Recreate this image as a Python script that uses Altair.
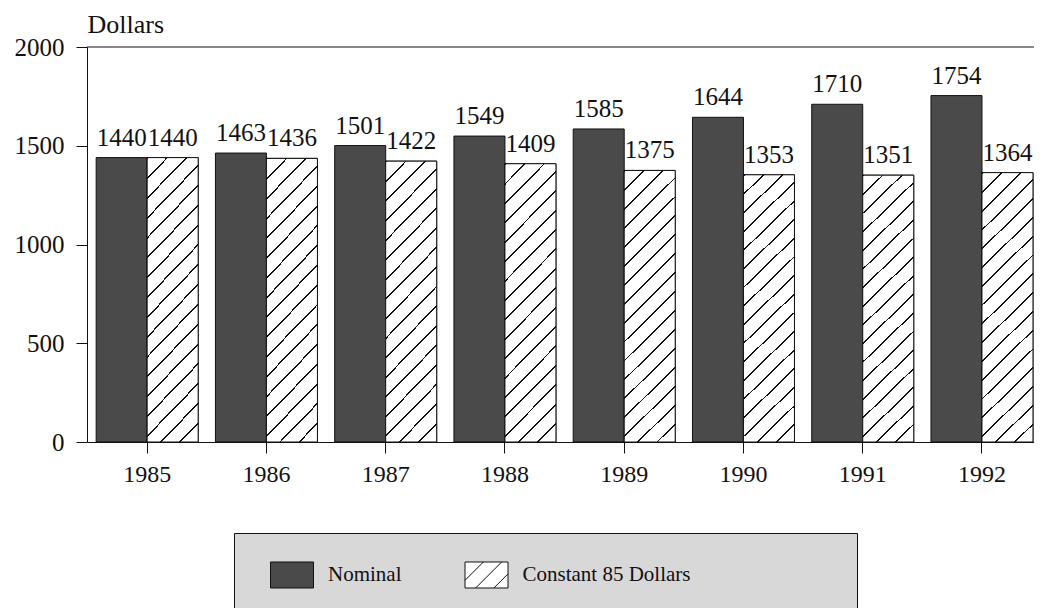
import altair as alt
import pandas as pd

# ---- data ----
years = ["1985", "1986", "1987", "1988", "1989", "1990", "1991", "1992"]
nominal = [1440, 1463, 1501, 1549, 1585, 1644, 1710, 1754]
constant85 = [1440, 1436, 1422, 1409, 1375, 1353, 1351, 1364]
series = ["Nominal", "Constant 85 Dollars"]
y_ticks = [0, 500, 1000, 1500, 2000]

rows = []
for i, yr in enumerate(years):
    rows.append({"year": yr, "series": series[0], "value": nominal[i]})
    rows.append({"year": yr, "series": series[1], "value": constant85[i]})
df = pd.DataFrame(rows)
top_df = pd.DataFrame({"value": [max(y_ticks)]})

# ---- styles ----
FONT = "Liberation Serif"
INK = "#111111"
DARK = "#4a4a4a"
STIPPLE = "#d8d8d8"


def hatch(n, w, h, lw=0.1):
    """Diagonal '/' hatch as a repeating linear gradient (bbox units)."""
    a = w / h
    L = (w + h) / (h * (1 + a * a))
    stops = []
    for k in range(n):
        s0 = k / n
        s1 = (k + lw) / n
        s2 = (k + 1) / n
        stops += [
            {"offset": round(s0, 5), "color": INK},
            {"offset": round(s1, 5), "color": INK},
            {"offset": round(s1, 5), "color": "white"},
            {"offset": round(s2, 5), "color": "white"},
        ]
    return {"gradient": "linear", "x1": 0, "y1": 0,
            "x2": round(a * L, 4), "y2": round(L, 4), "stops": stops}


RECT = "M-1,-0.605L1,-0.605L1,0.605L-1,0.605Z"
RECT_HATCH = (RECT + " M-1,0.25L-0.145,-0.605 M-0.505,0.605L0.705,-0.605"
              " M0.345,0.605L1,-0.05")

# trailing blank room inside the legend frame (the frame is wider than its entries)
GAP = "\u00a0" * 28 + "\u2060"

legend_def = alt.Legend(
    title=None, orient="none", legendX=147, legendY=486, direction="horizontal",
    fillColor=STIPPLE, strokeColor=INK, padding=19.5, symbolOffset=16.5,
    symbolSize=1849, symbolStrokeColor=INK, symbolStrokeWidth=1,
    labelOffset=14, columnPadding=46.5, labelFont=FONT, labelFontSize=21,
    labelColor=INK, labelLimit=700,
    labelExpr="datum.label + (datum.value == 'Nominal' ? '' : '" + GAP + "')",
)

x_enc = alt.X(
    "year:N",
    scale=alt.Scale(domain=years, paddingInner=0.1447, paddingOuter=0.0427, align=0.9),
    axis=alt.Axis(title=None, labelAngle=0, tickSize=11, labelPadding=9,
                  labelFont=FONT, labelFontSize=24, labelColor=INK,
                  domainColor=INK, tickColor=INK, domainWidth=1, tickWidth=1),
)
xo_enc = alt.XOffset("series:N", scale=alt.Scale(domain=series))
y_enc = alt.Y(
    "value:Q",
    scale=alt.Scale(domain=[0, 2000], nice=False),
    axis=alt.Axis(values=y_ticks, format="d", grid=False, tickSize=11, labelPadding=12,
                  labelFont=FONT, labelFontSize=25, labelColor=INK,
                  domainColor=INK, tickColor=INK, domainWidth=1, tickWidth=1,
                  title="Dollars", titleAngle=0, titleX=0, titleY=-15,
                  titleAlign="left", titleBaseline="alphabetic", titleFont=FONT,
                  titleFontSize=26, titleFontWeight="normal", titleColor=INK),
)
fill_enc = alt.Fill("series:N", scale=alt.Scale(domain=series, range=[DARK, "white"]),
                    legend=legend_def)

bars = alt.Chart(df).mark_bar(stroke=INK, strokeWidth=1).encode(
    x=x_enc, xOffset=xo_enc, y=y_enc, fill=fill_enc
)

hatched = alt.Chart(df).transform_filter(
    alt.datum.series == series[1]
).mark_bar(fill=hatch(17, 51, 275), stroke=INK, strokeWidth=1).encode(
    x=x_enc, xOffset=xo_enc, y=y_enc
)

labels = alt.Chart(df).mark_text(
    font=FONT, fontSize=25, color=INK, baseline="alphabetic", dy=-12
).encode(x=x_enc, xOffset=xo_enc, y=y_enc, text=alt.Text("value:Q", format="d"))

top_line = alt.Chart(top_df).mark_rule(color=INK, strokeWidth=1).encode(y=y_enc)

legend_pts = alt.Chart(df).transform_filter("false").mark_point(
    filled=True, opacity=1, size=1849, strokeWidth=1
).encode(
    x=x_enc, xOffset=xo_enc, y=y_enc, fill=fill_enc,
    shape=alt.Shape("series:N", scale=alt.Scale(domain=series, range=[RECT, RECT_HATCH]),
                    legend=legend_def),
    stroke=alt.Stroke("series:N", scale=alt.Scale(domain=series, range=[INK, INK]),
                      legend=legend_def),
)

chart = alt.layer(bars, hatched, labels, top_line, legend_pts).properties(
    width=947, height=395,
    autosize=alt.AutoSizeParams(type="none"),
    padding={"left": 79, "top": 39, "right": 0, "bottom": 190},
    background="white",
).configure(font=FONT).configure_view(stroke=None)

chart.save("out.html", embed_options={"renderer": "svg", "actions": False})
